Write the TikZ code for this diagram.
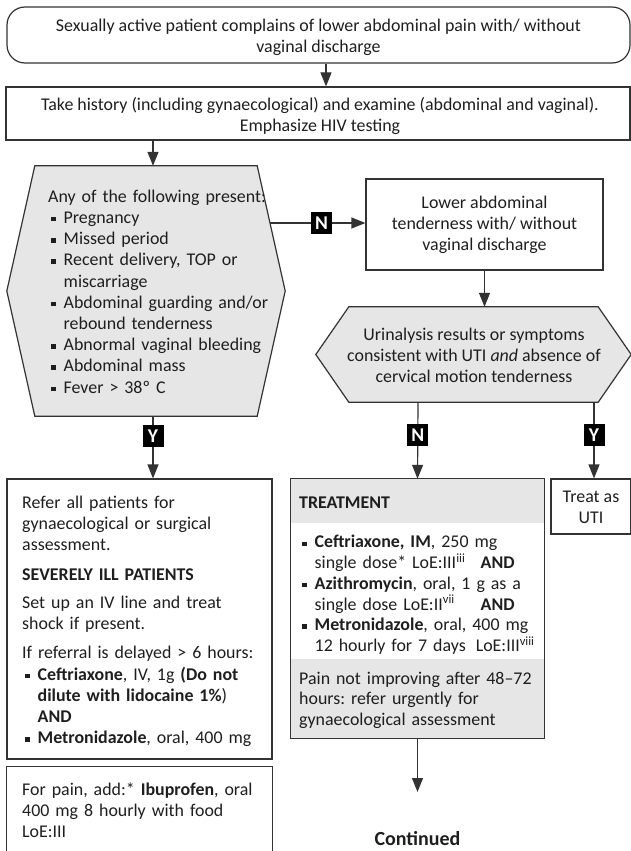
\documentclass[tikz,border=0pt]{standalone}
\usepackage{fontspec}
\setmainfont{Carlito}
\usetikzlibrary{arrows.meta}
\definecolor{edgec}{HTML}{333333}
\definecolor{greyfill}{HTML}{E6E6E6}
\definecolor{inkc}{HTML}{1E1E1E}
\newcommand\bodyfont{\fontsize{17.9}{21.2}\selectfont\frenchspacing}
\newcommand\fstrut{\rule{0pt}{15pt}}
\newcommand\sqb{\makebox[15.5pt][l]{\hspace{3.2pt}\rule[2pt]{4.4pt}{4.4pt}}}
\newcommand\itm{\par\hangindent=15.5pt\hangafter=1\noindent\sqb}

\begin{document}
\begin{tikzpicture}[x=1pt,y=-1pt,
  frame/.style={draw=edgec,line width=1.2pt,inner sep=0pt},
  ghost/.style={inner sep=0pt},
  para/.style={anchor=north west,inner sep=0pt,text width=#1,font=\bodyfont,text=inkc},
  ctr/.style={anchor=north,inner sep=0pt,align=center,font=\bodyfont,text=inkc},
  arr/.style={draw=edgec,line width=1.2pt,-{Triangle[length=14pt,width=11pt]}},
  tag/.style={fill=black,text=white,inner sep=0pt,minimum width=21pt,minimum height=22pt,
    font=\bfseries\fontsize{19.5}{19.5}\selectfont}
]
\useasboundingbox (0,0) rectangle (631,851);

% presenting complaint
\node[frame,rounded corners=18pt,minimum width=623,minimum height=56] (start) at (318.5,35) {};
\node[ctr] (startTxt) at (318.5,16) {\fstrut Sexually active patient complains of lower abdominal pain with/ without\\vaginal discharge};

% history and examination
\node[frame,minimum width=624,minimum height=53] (hist) at (318,113.5) {};
\node[ctr] (histTxt) at (320,95) {\fstrut Take history (including gynaecological) and examine (abdominal and vaginal).\\Emphasize HIV testing};
\draw[arr] ([xshift=7.5pt]start.south) -- ([xshift=7.5pt]start.south |- hist.north);

% first decision: danger signs
\node[ghost,minimum width=278,minimum height=250] (q1) at (146,291) {};
\draw[draw=edgec,fill=greyfill,line width=1.2pt]
  ([xshift=28pt]q1.north west) -- ([xshift=-28pt]q1.north east) -- (q1.east)
  -- ([xshift=-28pt]q1.south east) -- ([xshift=28pt]q1.south west) -- (q1.west) -- cycle;
\node[para=240pt] (q1Txt) at (48,187) {\noindent\fstrut Any of the following present:%
  \itm Pregnancy\itm Missed period\itm Recent delivery, TOP or\newline miscarriage%
  \itm Abdominal guarding and/or\newline rebound tenderness\itm Abnormal vaginal bleeding%
  \itm Abdominal mass\itm Fever > 38º C\par};
\draw[arr] ([xshift=7pt]q1.north |- hist.south) -- ([xshift=7pt]q1.north);

% no danger signs
\node[frame,minimum width=237,minimum height=91] (low) at (484.5,224.5) {};
\node[ctr] (lowTxt) at (484.5,193) {\fstrut Lower abdominal\\tenderness with/ without\\vaginal discharge};
\coordinate (q1n) at (269.8,223);
\draw[arr] (q1n) -- (q1n -| low.west) node[tag,pos=0.54] (tagA) {N};

% second decision: UTI
\node[ghost,minimum width=315,minimum height=95] (q2) at (473.5,354.5) {};
\draw[draw=edgec,fill=greyfill,line width=1.2pt]
  ([xshift=33pt]q2.north west) -- ([xshift=-33pt]q2.north east) -- (q2.east)
  -- ([xshift=-33pt]q2.south east) -- ([xshift=33pt]q2.south west) -- (q2.west) -- cycle;
\node[ctr] (q2Txt) at (474,325) {\fstrut Urinalysis results or symptoms\\consistent with UTI \textit{and} absence of\\cervical motion tenderness};
\draw[arr] (low.south) -- (low.south |- q2.north);

% referral box
\node[frame,minimum width=265,minimum height=280] (refer) at (139.5,619) {};
\node[para=250pt] (referTxt) at (22,493) {\noindent\fstrut Refer all patients for\newline gynaecological or surgical\newline assessment.\par\vspace{8.8pt}%
  \noindent\textbf{SEVERELY ILL PATIENTS}\par\vspace{6.8pt}%
  \noindent Set up an IV line and treat\newline shock if present.\par\vspace{7.8pt}%
  \noindent If referral is delayed > 6 hours:%
  \itm\textbf{Ceftriaxone}, IV, 1g \textbf{(Do not\newline dilute with lidocaine 1\%})\newline\textbf{AND}%
  \itm\textbf{Metronidazole}, oral, 400 mg\par};
\draw[arr] ([xshift=7pt]q1.south) -- ([xshift=7pt]q1.south |- refer.north) node[tag,pos=0.32] (tagB) {Y};

% pain relief box (continues below)
\node[ghost,minimum width=265,minimum height=84] (pain) at (139.5,809) {};
\draw[draw=edgec,line width=1.2pt] (pain.south west) -- (pain.north west) -- (pain.north east) -- (pain.south east);
\node[para=250pt] (painTxt) at (22,780) {\noindent\fstrut For pain, add:* \textbf{Ibuprofen}, oral\newline 400 mg 8 hourly with food\newline LoE:III\par};

% treatment box
\node[ghost,minimum width=253,minimum height=259] (tr) at (417.5,608.5) {};
\fill[greyfill] (tr.north west) rectangle ([yshift=-44pt]tr.north east);
\fill[greyfill] ([yshift=79pt]tr.south west) rectangle (tr.south east);
\draw[draw=edgec,line width=1.2pt] (tr.north west) rectangle (tr.south east);
\node[para=240pt] (trHead) at (299,493) {\noindent\fstrut\textbf{TREATMENT}};
\node[para=260pt] (trList) at (299,527) {\fontsize{17.9}{20.7}\selectfont
  \itm\fstrut\textbf{Ceftriaxone, IM}, 250 mg\newline\makebox[166pt][l]{single dose* LoE:III\textsuperscript{iii}}\textbf{AND}%
  \itm\textbf{Azithromycin}, oral, 1 g as a\newline\makebox[166pt][l]{single dose LoE:II\textsuperscript{vii}}\textbf{AND}%
  \itm\textbf{Metronidazole}, oral, 400 mg\newline 12 hourly for 7 days\hspace{4pt} LoE:III\textsuperscript{viii}\par};
\node[para=245pt] (trPain) at (299,669) {\fontsize{17.9}{20.5}\selectfont\noindent\fstrut Pain not improving after 48–72\newline hours: refer urgently for\newline gynaecological assessment\par};
\draw[arr] ([xshift=0.5pt]q2.south -| tr.north) -- (tr.north) node[tag,pos=0.43] (tagC) {N};

% treat as UTI
\node[frame,minimum width=80,minimum height=55] (uti) at (591,506.5) {};
\node[ctr] (utiTxt) at (591,487) {\fstrut Treat as\\UTI};
\draw[arr] ([xshift=3pt]q2.south -| uti.north) -- ([xshift=3pt]uti.north) node[tag,pos=0.43] (tagD) {Y};

% continuation
\coordinate (more) at (417.5,792);
\draw[arr] (tr.south) -- (more);
\node[anchor=base,inner sep=0pt,font=\bfseries\fontsize{20}{24}\selectfont,text=inkc] (cont) at (417.5,845) {Continued};
\end{tikzpicture}
\end{document}
